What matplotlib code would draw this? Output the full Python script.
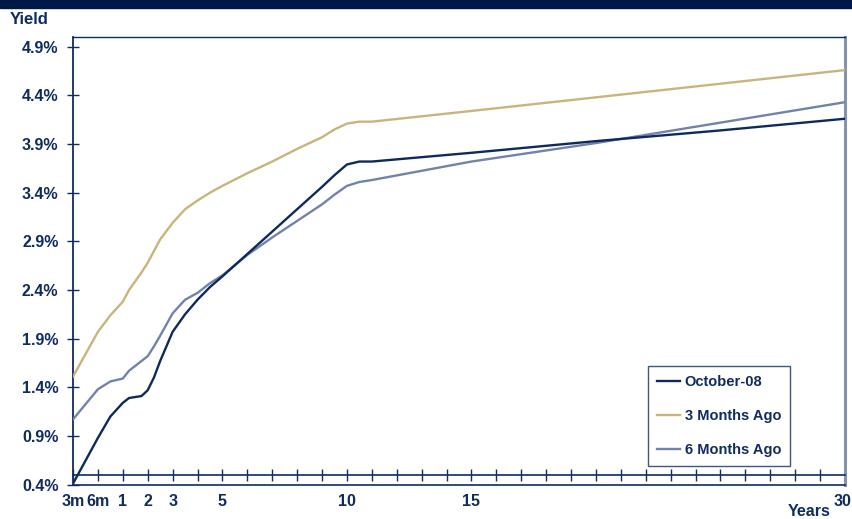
import matplotlib.pyplot as plt
import matplotlib.transforms as mtransforms
import numpy as np
from matplotlib.patches import Rectangle

plt.rcParams['font.family'] = ['Liberation Sans', 'DejaVu Sans']
plt.rcParams['font.weight'] = 'bold'

# Maturities in years
maturities = [0.25, 0.5, 0.75, 1, 1.25, 1.5, 1.75, 2, 2.25, 2.5, 3, 3.5, 4, 4.5, 5,
              6, 7, 8, 9, 9.5, 10, 10.5, 11, 15, 20, 25, 30]

# Yields in percent
oct_08 = [0.41, 0.88, 1.10, 1.24, 1.29, 1.30, 1.31, 1.37, 1.50, 1.67, 1.97, 2.15, 2.30, 2.43, 2.54,
          2.77, 3.00, 3.23, 3.46, 3.58, 3.69, 3.72, 3.72, 3.81, 3.93, 4.04, 4.16]
three_months = [1.51, 1.97, 2.14, 2.28, 2.40, 2.49, 2.58, 2.68, 2.80, 2.92, 3.09, 3.23, 3.32, 3.40, 3.47,
                3.60, 3.72, 3.85, 3.97, 4.05, 4.11, 4.13, 4.13, 4.24, 4.38, 4.52, 4.66]
six_months = [1.07, 1.38, 1.46, 1.49, 1.57, 1.62, 1.67, 1.72, 1.82, 1.93, 2.16, 2.30, 2.37, 2.47, 2.55,
              2.76, 2.94, 3.11, 3.28, 3.38, 3.47, 3.51, 3.53, 3.72, 3.91, 4.12, 4.33]

tick_maturities = [0.25, 0.5, 1, 2, 3, 5, 10, 15, 30]
tick_labels = ['3m', '6m', '1', '2', '3', '5', '10', '15', '30']
y_ticks = [0.4, 0.9, 1.4, 1.9, 2.4, 2.9, 3.4, 3.9, 4.4, 4.9]

navy = '#0f2c5e'
c_oct = '#0d2a5c'
c_3m = '#c9b47c'
c_6m = '#7283ab'


def to_pos(m):
    # axis spacing: 3m, 6m, 1y equally spaced, then one step per year
    return np.interp(m, [0.25, 0.5, 1, 30], [0, 1, 2, 31])


fig = plt.figure(figsize=(8.52, 5.19), dpi=100)
fig.patches.append(Rectangle((0, 1 - 8 / 519), 1, 8 / 519, transform=fig.transFigure,
                             color='#001848', zorder=0))
ax = fig.add_axes([73 / 852, 1 - 484.6 / 519, (845 - 73) / 852, (484.6 - 37) / 519])

x = to_pos(maturities)
ax.plot(x, oct_08, color=c_oct, lw=1.7, label='October-08', zorder=5)
ax.plot(x, three_months, color=c_3m, lw=1.7, label='3 Months Ago', zorder=4)
ax.plot(x, six_months, color=c_6m, lw=1.7, label='6 Months Ago', zorder=4)

ax.set_xlim(0, 31)
ax.set_ylim(0.4, 5.0)

# x axis line sits slightly above the bottom with ticks at every step
ax.spines['bottom'].set_position(('data', 0.5))
ax.spines['bottom'].set_color(navy)
ax.spines['bottom'].set_linewidth(1.2)
ax.axhline(0.4, color=navy, lw=1.2, clip_on=False, zorder=3)
ax.spines['left'].set_color(navy)
ax.spines['left'].set_linewidth(1.3)
ax.spines['top'].set_color(navy)
ax.spines['top'].set_linewidth(1.0)
ax.spines['right'].set_color('#8494ae')
ax.spines['right'].set_linewidth(2.2)

ax.set_xticks(np.arange(0, 32))
labels = [''] * 32
for m, lab in zip(tick_maturities, tick_labels):
    labels[int(round(float(to_pos(m))))] = lab
ax.set_xticklabels(labels)
ax.tick_params(axis='x', direction='inout', length=8, width=1, colors=navy, pad=10,
               labelsize=11.5)
# keep the "30" inside the picture, flush with the right edge
last = ax.get_xticklabels()[-1]
last.set_horizontalalignment('right')
last.set_transform(last.get_transform() +
                   mtransforms.ScaledTranslation(6 / 100, 0, fig.dpi_scale_trans))

ax.set_yticks(y_ticks)
ax.set_yticklabels([f'{v:.1f}%' for v in y_ticks])
ax.tick_params(axis='y', direction='inout', length=9, width=1, colors=navy, pad=6,
               labelsize=11.5)

fig.text(10 / 852, 1 - 20 / 519, 'Yield', color=navy, fontsize=12, fontweight='bold',
         va='center', ha='left')
fig.text(831 / 852, 1 - 512 / 519, 'Years', color=navy, fontsize=11.5, fontweight='bold',
         va='center', ha='right')

leg = ax.legend(loc='upper left', bbox_to_anchor=(648 / 852, 1 - 366 / 519),
                bbox_transform=fig.transFigure, borderaxespad=0, frameon=True, fancybox=False,
                handlelength=1.6, handletextpad=0.3, labelspacing=1.38,
                borderpad=0.62, fontsize=10.5)
leg.get_frame().set_edgecolor(navy)
leg.get_frame().set_linewidth(1.0)
for t in leg.get_texts():
    t.set_color(navy)
    t.set_fontweight('bold')

fig.savefig('out.png', dpi=100)
